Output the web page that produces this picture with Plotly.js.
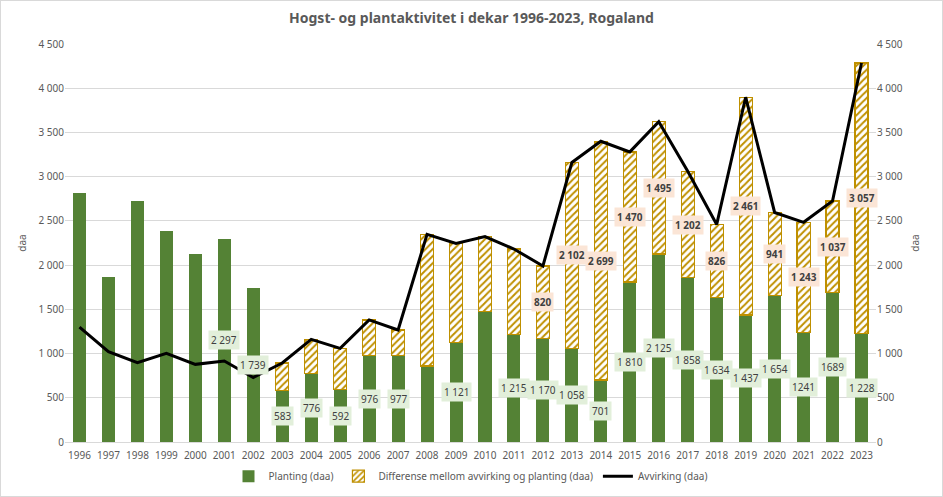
<!DOCTYPE html>
<html>
<head>
<meta charset="utf-8">
<script src="https://cdn.plot.ly/plotly-3.0.1.min.js"></script>
<style>
  html, body { margin: 0; padding: 0; background: #fff; }
  #chart { width: 943px; height: 497px; box-sizing: border-box; border: 1px solid #d9d9d9; }
</style>
</head>
<body>
<div id="chart"></div>
<script>
// Hogst- og plantaktivitet, Rogaland (daa)
const years = ['1996','1997','1998','1999','2000','2001','2002','2003','2004','2005',
  '2006','2007','2008','2009','2010','2011','2012','2013','2014','2015',
  '2016','2017','2018','2019','2020','2021','2022','2023'];

const planting = [2820, 1870, 2725, 2386, 2122, 2297, 1739, 583, 776, 592,
  976, 977, 859, 1121, 1474, 1215, 1170, 1058, 701, 1810,
  2125, 1858, 1634, 1437, 1654, 1241, 1689, 1228];

const avvirking = [1300, 1021, 897, 1003, 878, 916, 730, 893, 1161, 1059,
  1380, 1266, 2348, 2246, 2322, 2182, 1990, 3160, 3400, 3280,
  3620, 3060, 2460, 3898, 2595, 2484, 2726, 4285];

// data labels as shown in the original ('' = no label)
const plantingLabels = ['', '', '', '', '', '2 297', '1 739', '583', '776', '592',
  '976', '977', '', '1 121', '', '1 215', '1 170', '1 058', '701', '1 810',
  '2 125', '1 858', '1 634', '1 437', '1 654', '1241', '1689', '1 228'];

const diffLabels = ['', '', '', '', '', '', '', '', '', '',
  '', '', '', '', '', '', '820', '2 102', '2 699', '1 470',
  '1 495', '1 202', '826', '2 461', '941', '1 243', '1 037', '3 057'];

// no difference bar where planting exceeds avvirking
const differanse = avvirking.map((v, i) => v > planting[i] ? v - planting[i] : null);

const green = '#548235';
const gold = '#bf9000';
const grey = '#595959';

let data = [
  {
    x: years, y: planting, type: 'bar', name: 'Planting (daa)',
    marker: { color: green }, hoverinfo: 'skip'
  },
  {
    x: years, y: differanse, type: 'bar', name: 'Differense mellom avvirking og planting (daa)',
    marker: {
      color: '#ffffff',
      line: { color: gold, width: 1.2 },
      pattern: { shape: '/', fgcolor: gold, bgcolor: '#ffffff', size: 5, solidity: 0.4 }
    },
    hoverinfo: 'skip'
  },
  {
    x: years, y: avvirking, type: 'scatter', mode: 'lines', name: 'Avvirking (daa)',
    yaxis: 'y2', line: { color: '#000000', width: 3 }, hoverinfo: 'skip'
  }
];

// labels placed at category index so the axis stays categorical
let annotations = [];
years.forEach((yr, i) => {
  if (plantingLabels[i]) {
    annotations.push({
      x: i, y: planting[i] / 2, text: plantingLabels[i], showarrow: false,
      bgcolor: '#e2efda', font: { size: 10, color: '#404040' }, borderpad: 2
    });
  }
  if (diffLabels[i]) {
    annotations.push({
      x: i, y: planting[i] + differanse[i] / 2, text: '<b>' + diffLabels[i] + '</b>', showarrow: false,
      bgcolor: '#fbe5d6', font: { size: 10, color: '#404040' }, borderpad: 2
    });
  }
});

const yAxisBase = {
  range: [0, 4500], dtick: 500, tickformat: ',d',
  tickfont: { size: 10, color: grey },
  gridcolor: '#d9d9d9', zeroline: false, showline: false, ticks: ''
};

let layout = {
  width: 941, height: 495,
  margin: { l: 64, r: 66, t: 43, b: 54 },
  separators: ', ',
  font: { family: 'Noto Sans, Open Sans, sans-serif', color: grey },
  title: {
    text: '<b>Hogst- og plantaktivitet i dekar 1996-2023, Rogaland</b>',
    font: { size: 14, color: grey }, x: 0.5, y: 0.965, yanchor: 'middle'
  },
  barmode: 'stack',
  bargap: 0.55,
  showlegend: true,
  legend: {
    orientation: 'h', x: 0.5, xanchor: 'center',
    yref: 'container', y: 0.04, yanchor: 'middle',
    font: { size: 10, color: grey }, traceorder: 'normal'
  },
  xaxis: {
    type: 'category', range: [-0.5, years.length - 0.5], autorange: false,
    tickfont: { size: 10, color: grey }, ticklabelstandoff: 4,
    showline: true, linecolor: '#d9d9d9', ticks: '', showgrid: false
  },
  yaxis: Object.assign({}, yAxisBase, {
    title: { text: 'daa', font: { size: 10, color: grey }, standoff: 10 }
  }),
  yaxis2: Object.assign({}, yAxisBase, {
    overlaying: 'y', side: 'right', showgrid: false,
    title: { text: 'daa', font: { size: 10, color: grey }, standoff: 10 }
  }),
  annotations: annotations,
  plot_bgcolor: '#ffffff',
  paper_bgcolor: '#ffffff'
};

Plotly.newPlot('chart', data, layout, { displayModeBar: false, staticPlot: true });
</script>
</body>
</html>
